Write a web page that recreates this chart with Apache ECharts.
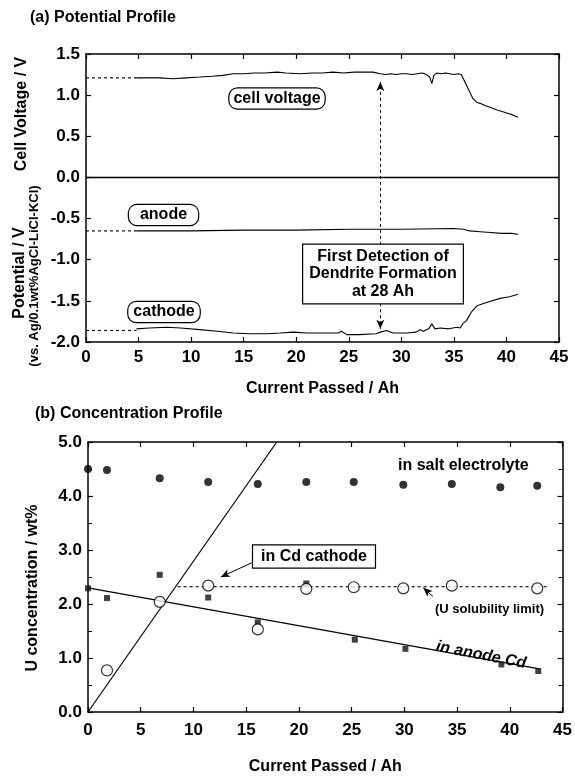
<!DOCTYPE html>
<html>
<head>
<meta charset="utf-8">
<script src="https://cdn.jsdelivr.net/npm/echarts@6/dist/echarts.min.js"></script>
<style>
html, body { margin: 0; padding: 0; background: #fff; }
#chart { width: 575px; height: 776px; }
</style>
</head>
<body>
<div id="chart"></div>
<script>
// (a) potential profile, solid parts of the curves
const cellAh = [4.8, 6, 7, 8.3, 9.5, 10.8, 12, 13, 14, 15, 16, 17, 18.2, 19, 20.4, 21.5, 22.5, 23.5, 24.5, 25.5, 26.5, 27.3, 28, 28.5, 29, 29.5, 30, 30.5, 31, 31.5, 32, 32.4, 32.7, 32.9, 33.1, 33.4, 33.8, 34.2, 34.6, 35, 35.4, 35.7, 35.9, 36.2, 36.5, 36.8, 37.2, 37.5, 38, 38.5, 39.1, 39.6, 40.1, 40.6, 41.1]
const cellV = [1.21, 1.21, 1.21, 1.20, 1.21, 1.22, 1.23, 1.24, 1.26, 1.26, 1.27, 1.27, 1.28, 1.27, 1.26, 1.27, 1.27, 1.28, 1.27, 1.28, 1.28, 1.28, 1.26, 1.25, 1.26, 1.25, 1.26, 1.26, 1.25, 1.26, 1.27, 1.25, 1.22, 1.14, 1.24, 1.27, 1.26, 1.27, 1.26, 1.25, 1.26, 1.25, 1.20, 1.12, 1.04, 0.96, 0.91, 0.90, 0.87, 0.85, 0.82, 0.80, 0.78, 0.76, 0.73]
const anodeAh = [4.8, 10, 15, 20, 25, 30, 35, 35.9, 36.5, 37.5, 38.5, 39.5, 40.5, 41.1]
const anodeV = [-0.65, -0.65, -0.64, -0.64, -0.63, -0.63, -0.62, -0.63, -0.65, -0.66, -0.67, -0.68, -0.68, -0.69]
const cathAh = [4.8, 6, 7.7, 9, 10.8, 12.5, 14, 15.5, 17.2, 18.5, 19.7, 21, 22.5, 24, 24.3, 24.8, 26, 27.6, 28, 28.6, 29.2, 30.5, 31.4, 31.8, 32.1, 32.6, 32.9, 33.2, 33.7, 34.5, 35.3, 35.6, 35.9, 36.2, 36.7, 37.2, 38.1, 39.4, 40.3, 41.1]
const cathV = [-1.84, -1.83, -1.82, -1.83, -1.85, -1.87, -1.89, -1.90, -1.90, -1.89, -1.88, -1.89, -1.89, -1.89, -1.87, -1.91, -1.91, -1.90, -1.88, -1.86, -1.89, -1.89, -1.88, -1.85, -1.87, -1.84, -1.78, -1.84, -1.83, -1.84, -1.82, -1.83, -1.77, -1.74, -1.63, -1.56, -1.52, -1.47, -1.45, -1.42]
// dashed lead-in before recording started
const leadAh = [0, 4.8]
const leadCell = [1.21, 1.21]
const leadAnode = [-0.65, -0.65]
const leadCath = [-1.86, -1.86]
const zeroAh = [0, 45]
const zeroV = [0, 0]
const dendriteAh = 28

// (b) concentration profile
const saltAh = [0, 1.8, 6.8, 11.4, 16.1, 20.7, 25.2, 29.9, 34.5, 39.1, 42.6]
const saltU = [4.50, 4.48, 4.33, 4.26, 4.22, 4.26, 4.26, 4.21, 4.22, 4.16, 4.19]
const cdCathAh = [1.8, 6.8, 11.4, 16.1, 20.7, 25.2, 29.9, 34.5, 42.6]
const cdCathU = [0.77, 2.04, 2.34, 1.53, 2.28, 2.31, 2.29, 2.34, 2.29]
const anodeCdAh = [0, 1.8, 6.8, 11.4, 16.1, 20.7, 25.3, 30.1, 39.2, 42.7]
const anodeCdU = [2.29, 2.11, 2.54, 2.12, 1.66, 2.38, 1.34, 1.17, 0.88, 0.76]
const anodeFitAh = [0, 42.8]
const anodeFitU = [2.3, 0.8]
const cathFitAh = [0, 17.9]
const cathFitU = [0, 5.0]
const solubAh = [8.5, 43.6]
const solubU = [2.32, 2.32]

const FONT = '"Liberation Sans", Arial, Helvetica, sans-serif'
const zip = (xs, ys) => xs.map((x, i) => [x, ys[i]])

const chart = echarts.init(document.getElementById('chart'))

const axisLine = { show: true, onZero: false, lineStyle: { color: '#000', width: 1.5 } }
const tick = { show: true, inside: true, length: 5, lineStyle: { color: '#000', width: 1.2 } }
const tickLabel = { color: '#000', fontFamily: FONT, fontWeight: 'bold', fontSize: 17 }
const nameStyle = { color: '#000', fontFamily: FONT, fontWeight: 'bold', fontSize: 16 }

const makeX = (gridIndex, position, withLabels, nameGap) => ({
    type: 'value',
    gridIndex: gridIndex,
    min: 0,
    max: 45,
    interval: 5,
    position: position,
    axisLine: axisLine,
    axisTick: tick,
    splitLine: { show: false },
    axisLabel: withLabels ? Object.assign({ margin: nameGap > 40 ? 10 : 7 }, tickLabel) : { show: false },
    name: withLabels ? 'Current Passed / Ah' : '',
    nameLocation: 'middle',
    nameGap: nameGap,
    nameTextStyle: nameStyle
})

const makeY = (gridIndex, position, withLabels, min, max, interval, minor) => ({
    type: 'value',
    gridIndex: gridIndex,
    min: min,
    max: max,
    interval: interval,
    position: position,
    axisLine: axisLine,
    axisTick: tick,
    minorTick: { show: minor, splitNumber: 2, length: 4, lineStyle: { color: '#000', width: 1 } },
    splitLine: { show: false },
    axisLabel: withLabels ? Object.assign({ margin: 6, formatter: (v) => v.toFixed(1) }, tickLabel) : { show: false }
})

const lineSeries = (name, xi, yi, data, dashed, width) => ({
    name: name,
    type: 'line',
    xAxisIndex: xi,
    yAxisIndex: yi,
    data: data,
    symbol: 'none',
    smooth: false,
    z: 2,
    lineStyle: { color: '#000', width: width || 1.1, type: dashed ? [3, 3] : 'solid' }
})

const arrowLines = (pairs, dashed) => ({
    silent: true,
    symbol: ['none', 'arrow'],
    symbolSize: [6, 9],
    label: { show: false },
    lineStyle: { color: '#000', width: 1, type: dashed ? [3, 3] : 'solid' },
    data: pairs.map((p) => [{ coord: p[0] }, { coord: p[1] }])
})

const text = (str, x, y, extra) => ({
    type: 'text',
    x: x,
    y: y,
    z: 100,
    style: Object.assign({ text: str, fill: '#000', font: 'bold 16px ' + FONT, align: 'left', verticalAlign: 'middle' }, extra)
})

const boxed = (str, x, y, radius, padding) =>
    text(str, x, y, {
        align: 'center',
        backgroundColor: '#fff',
        borderColor: '#000',
        borderWidth: 1.2,
        borderRadius: radius,
        padding: padding
    })

const vertical = (str, x, y, size) => ({
    type: 'text',
    x: x,
    y: y,
    rotation: Math.PI / 2,
    style: { text: str, fill: '#000', font: 'bold ' + size + 'px ' + FONT, align: 'center', verticalAlign: 'middle' }
})

const cellSeries = lineSeries('cell', 0, 0, zip(cellAh, cellV), false)
const zeroSeries = lineSeries('zero', 0, 0, zip(zeroAh, zeroV), false, 1.5)
zeroSeries.markLine = arrowLines([
    [[dendriteAh, -0.82], [dendriteAh, 1.16]],
    [[dendriteAh, -1.53], [dendriteAh, -1.84]]
], true)

const solubSeries = lineSeries('solub', 2, 2, zip(solubAh, solubU), true)
solubSeries.markLine = arrowLines([
    [[15.6, 2.77], [12.6, 2.5]],
    [[32.7, 2.14], [31.8, 2.30]]
], false)

const option = {
    animation: false,
    backgroundColor: '#fff',
    grid: [
        { left: 86, top: 54, width: 473, height: 288 },
        { left: 88, top: 442, width: 475, height: 279 }
    ],
    xAxis: [
        makeX(0, 'bottom', true, 39),
        makeX(0, 'top', false, 0),
        makeX(1, 'bottom', true, 47),
        makeX(1, 'top', false, 0)
    ],
    yAxis: [
        makeY(0, 'left', true, -2, 1.5, 0.5, false),
        makeY(0, 'right', false, -2, 1.5, 0.5, false),
        makeY(1, 'left', true, 0, 5, 1, true),
        makeY(1, 'right', false, 0, 5, 1, true)
    ],
    series: [
        lineSeries('cellLead', 0, 0, zip(leadAh, leadCell), true),
        cellSeries,
        zeroSeries,
        lineSeries('anodeLead', 0, 0, zip(leadAh, leadAnode), true),
        lineSeries('anode', 0, 0, zip(anodeAh, anodeV), false),
        lineSeries('cathLead', 0, 0, zip(leadAh, leadCath), true),
        lineSeries('cathode', 0, 0, zip(cathAh, cathV), false),

        lineSeries('anodeFit', 2, 2, zip(anodeFitAh, anodeFitU), false, 1.2),
        lineSeries('cathFit', 2, 2, zip(cathFitAh, cathFitU), false, 1.2),
        solubSeries,
        {
            name: 'salt', type: 'scatter', xAxisIndex: 2, yAxisIndex: 2, z: 5,
            symbol: 'circle', symbolSize: 8,
            itemStyle: { color: '#000' },
            data: zip(saltAh, saltU)
        },
        {
            name: 'anodeCd', type: 'scatter', xAxisIndex: 2, yAxisIndex: 2, z: 4,
            symbol: 'rect', symbolSize: 6,
            itemStyle: { color: '#111' },
            data: zip(anodeCdAh, anodeCdU)
        },
        {
            name: 'cdCathode', type: 'scatter', xAxisIndex: 2, yAxisIndex: 2, z: 5,
            symbol: 'circle', symbolSize: 11,
            itemStyle: { color: '#fff', borderColor: '#000', borderWidth: 1.2 },
            data: zip(cdCathAh, cdCathU)
        }
    ],
    graphic: [
        text('(a) Potential Profile', 30, 18),
        text('(b) Concentration Profile', 35, 414),
        vertical('Cell Voltage / V', 22, 114, 16),
        vertical('Potential / V', 20, 273, 16),
        vertical('(vs. Ag/0.1wt%AgCl-LiCl-KCl)', 34, 276, 13),
        vertical('U concentration / wt%', 33, 588, 16),
        boxed('cell voltage', 277, 98.5, 8, [2, 4]),
        boxed('anode', 163.5, 215, 8, [2, 11]),
        boxed('cathode', 164, 312, 8, [2, 5]),
        text('First Detection of\nDendrite Formation\nat 28 Ah', 383, 274, {
            align: 'center',
            lineHeight: 17.5,
            backgroundColor: '#fff',
            borderColor: '#000',
            borderWidth: 1.2,
            padding: [3, 6]
        }),
        text('in salt electrolyte', 398, 466),
        boxed('in Cd cathode', 314, 556.5, 0, [3, 8]),
        text('(U solubility limit)', 435, 609, { font: 'bold 13px ' + FONT }),
        {
            type: 'text',
            x: 481,
            y: 655,
            rotation: -0.19,
            z: 100,
            style: { text: 'in anode Cd', fill: '#000', font: 'italic bold 16px ' + FONT, align: 'center', verticalAlign: 'middle' }
        }
    ]
}

chart.setOption(option)
</script>
</body>
</html>
